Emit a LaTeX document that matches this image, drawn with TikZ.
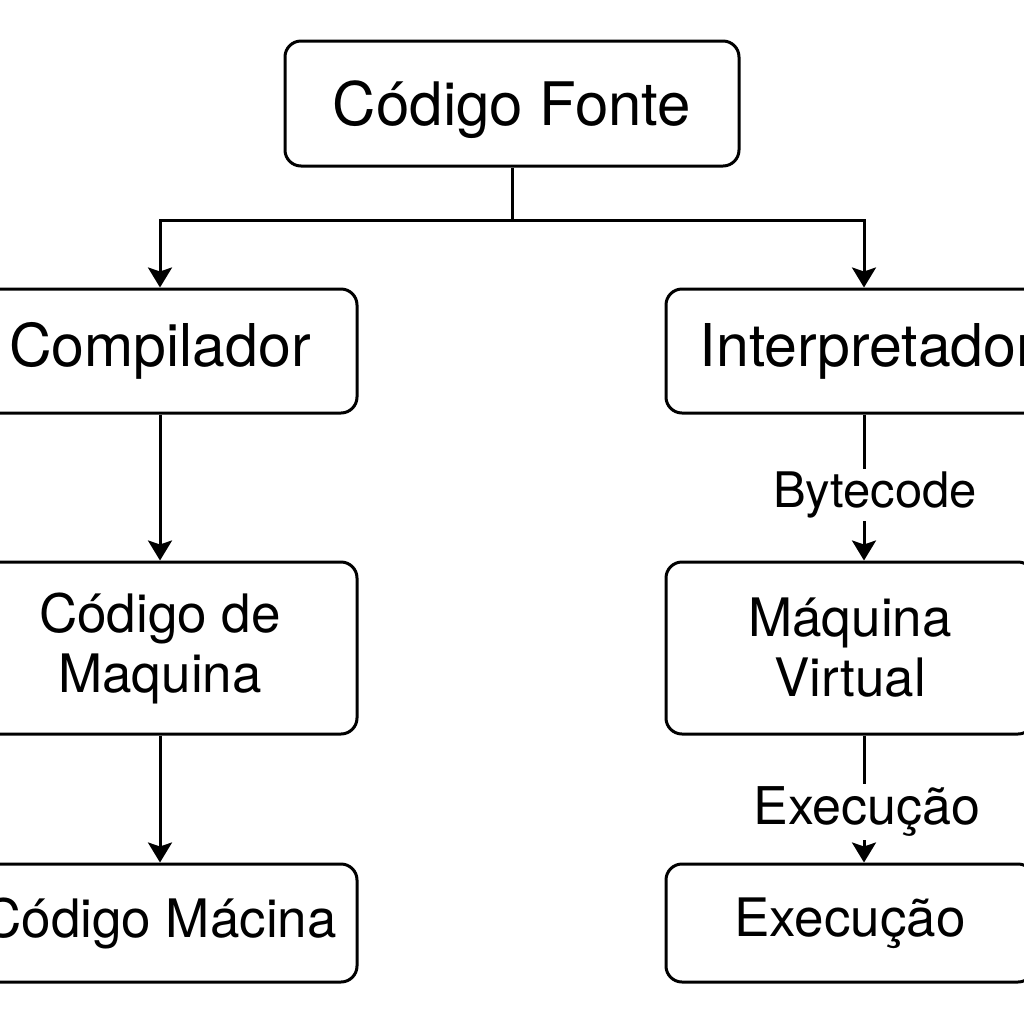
\documentclass[tikz,border=0pt]{standalone}
\usepackage{fontspec}
\setmainfont{TeX Gyre Heros}
\usetikzlibrary{arrows.meta}
\begin{document}
\begin{tikzpicture}[x=0.5pt,y=-0.5pt,
  box/.style={draw=black,line width=1.5pt,rounded corners=8pt,fill=white,align=center,inner sep=0pt},
  arr/.style={line width=1.5pt,-{Stealth[length=10pt,width=12pt,inset=2pt]}},
  conn/.style={line width=1.5pt},
  lbl/.style={fill=white,inner sep=1.5pt}]
\useasboundingbox (0,0) rectangle (1024,1024);
\clip (0,0) rectangle (1024,1024);
\fill[white] (0,0) rectangle (1024,1024);
% nodes
\node[box,minimum width=227pt,minimum height=62.5pt,font=\fontsize{30}{36}\selectfont,text depth=0pt] (src) at (512,103.5) {Código Fonte};
\node[box,minimum width=197pt,minimum height=62pt,font=\fontsize{29.5}{36}\selectfont] (comp) at (160,351) {Compilador};
\node[box,minimum width=197pt,minimum height=86pt,font=\fontsize{26.5}{30}\selectfont] (cdm) at (160,648) {Código de\\Maquina};
\node[box,minimum width=197pt,minimum height=59pt,font=\fontsize{26.5}{30}\selectfont] (cm) at (160,923) {Código Mácina};
\node[box,minimum width=202pt,minimum height=62pt,font=\fontsize{29.5}{36}\selectfont] (interp) at (868,351) {Interpretador};
\node[box,minimum width=184pt,minimum height=86pt,font=\fontsize{26.5}{30}\selectfont] (vm) at (850,648) {Máquina\\Virtual};
\node[box,minimum width=184pt,minimum height=59pt,font=\fontsize{26.5}{30}\selectfont] (exe) at (850,923) {Execução};
% coordinates
\coordinate (rc) at (864,0);
\coordinate (split) at (512,220);
% connectors
\draw[conn] (src.south) -- (split);
\draw[arr] (split) -| (comp.north);
\draw[arr] (split) -| (interp.north -| rc);
\draw[arr] (comp.south) -- (cdm.north);
\draw[arr] (cdm.south) -- (cm.north);
\draw[arr] (interp.south -| rc) -- node[lbl,pos=0.55,xshift=5.5pt,font=\fontsize{24.5}{28}\selectfont] (lb1) {Bytecode} (vm.north -| rc);
\draw[arr] (vm.south -| rc) -- node[lbl,pos=0.6,xshift=1.5pt,font=\fontsize{26}{30}\selectfont] (lb2) {Execução} (exe.north -| rc);
\end{tikzpicture}
\end{document}
